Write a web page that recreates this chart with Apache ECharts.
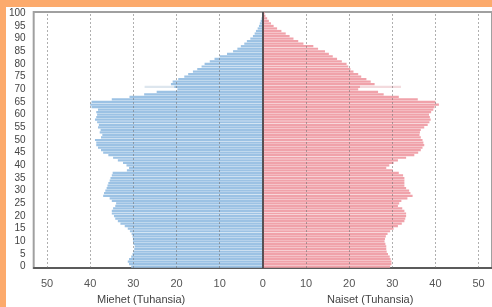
<!DOCTYPE html>
<html>
<head>
<meta charset="utf-8">
<script src="https://cdn.jsdelivr.net/npm/echarts@6/dist/echarts.min.js"></script>
<style>
html,body{margin:0;padding:0;width:492px;height:307px;background:#fcaa6c;overflow:hidden;}
#chart{position:absolute;left:6px;top:7px;width:486px;height:300px;background:#fff;}
</style>
</head>
<body>
<div id="chart"></div>
<script>
// Ages 0..100
const ages = [];
for (let a = 0; a <= 100; a++) ages.push(String(a));

// Men, thousands, age 0..100
const men = [
30.5,31,31.3,31,30.5,30.2,30,29.8,29.7,30,
30.1,30.1,30.2,30.4,30.8,31.3,32,33,33.6,34.2,
34.5,35,35,34.7,34.2,34,35,35.5,37,36.8,
36.5,36.2,36,35.8,35.5,35.3,35,34.8,31.5,31,
31.6,32.4,33.6,34.7,35.8,37,37.5,38.2,38.6,38.6,
38.9,37.5,37.2,37.8,37.6,38.2,38,38.4,38.9,38.6,
38.4,38.6,38.2,39.7,40,39.7,35,30.9,27.5,24.6,
19.8,20.5,21.3,20.9,19.6,18.2,17.3,16.2,15.2,14.2,
13.5,12.3,11.2,10,8.3,6.9,5.9,5.1,4.3,3.7,
2.9,2.3,1.9,1.6,1.2,0.9,0.7,0.5,0.3,0.2,
0.2
];

// Women, thousands, age 0..100
const women = [
29.5,29.8,29.8,29.6,29.4,29,28.7,28.6,28.6,28.4,
28.2,28.3,28.5,28.9,29.5,30.3,31.3,32.2,32.8,33,
33.2,33.2,32.8,32.3,31.3,31.6,32.1,33.5,34.7,34.2,
33.9,33.2,32.8,32.8,32.8,32.8,32.5,31.5,30.1,28.6,
29.3,30.3,31.3,33.2,35.1,36,36.6,37,37.4,37.2,
37,36.6,36.3,36.4,36.6,37.4,38.2,38.6,38.9,38.7,
38.5,39,39.5,39.8,40.8,40,35.9,31.5,28,26.7,
22.1,22.5,25.9,25,24,22.8,22.1,21,20.3,19.8,
19.4,18.3,17.2,16.2,15.3,14.4,12.8,11.7,9.4,8.2,
7.1,6.2,5.3,4.3,3.3,2.5,1.9,1.4,1,0.6,
0.4
];

// Faint highlighted bar at age 71
const highlightAge = '71';
const menHighlight = 27.4;
const womenHighlight = 32;

const xTicks = [-50,-40,-30,-20,-10,0,10,20,30,40,50];
const menLabel = 'Miehet (Tuhansia)';
const womenLabel = 'Naiset (Tuhansia)';

const menHl = ages.map(a => a === highlightAge ? -menHighlight : null);
const womenHl = ages.map(a => a === highlightAge ? womenHighlight : null);

const chart = echarts.init(document.getElementById('chart'), null, {renderer:'canvas'});
chart.setOption({
  animation:false,
  backgroundColor:'#fff',
  grid:{left:27, right:-3, top:5, bottom:39, show:true, borderColor:'#a0a0a0', borderWidth:2, backgroundColor:'transparent'},
  xAxis:{
    type:'value', min:-53.1, max:53.1, minInterval:10, maxInterval:10, splitNumber:10,
    axisLine:{show:true, onZero:false, lineStyle:{color:'#444', width:1.5}},
    axisTick:{show:false},
    axisLabel:{showMinLabel:false, showMaxLabel:false, color:'#555', fontSize:11, fontFamily:'Liberation Sans, Arial', margin:10,
      formatter:v => xTicks.indexOf(Math.round(v)) >= 0 ? String(Math.abs(Math.round(v))) : ''},
    splitLine:{show:false}
  },
  yAxis:{
    type:'category', data:ages, boundaryGap:true,
    axisLine:{show:true, lineStyle:{color:'#a0a0a0', width:2}},
    axisTick:{show:false},
    axisLabel:{interval:4, color:'#444', fontSize:10, fontFamily:'Liberation Sans, Arial', margin:8},
    splitLine:{show:false}
  },
  graphic:[
    {type:'text', left:91, top:287, style:{text:menLabel, fill:'#444', font:'11px Liberation Sans, Arial'}},
    {type:'text', left:321, top:287, style:{text:womenLabel, fill:'#444', font:'11px Liberation Sans, Arial'}}
  ],
  series:[
    {type:'bar', data:menHl, barGap:'-100%', barCategoryGap:'40%', z:1, silent:true,
      itemStyle:{color:'#dde6ee'}},
    {type:'bar', data:womenHl, barGap:'-100%', barCategoryGap:'40%', z:1, silent:true,
      itemStyle:{color:'#f3dadd'}},
    {type:'bar', data:men.map(v => -v), barGap:'-100%', barCategoryGap:'12%', z:2, silent:true,
      itemStyle:{color:'#9cc2e4'},
      markLine:{silent:true, symbol:'none', label:{show:false}, z:5,
        lineStyle:{color:'rgba(110,110,110,0.55)', width:1, type:[2,2]},
        data:xTicks.filter(t => t !== 0).map(t => ({xAxis:t}))}},
    {type:'bar', data:women, barGap:'-100%', barCategoryGap:'12%', z:2, silent:true,
      itemStyle:{color:'#f0a2aa'},
      markLine:{silent:true, symbol:'none', label:{show:false}, z:6, lineStyle:{color:'#333', width:1.5, type:'solid'},
        data:[{xAxis:0}]}}
  ]
});
</script>
</body>
</html>
